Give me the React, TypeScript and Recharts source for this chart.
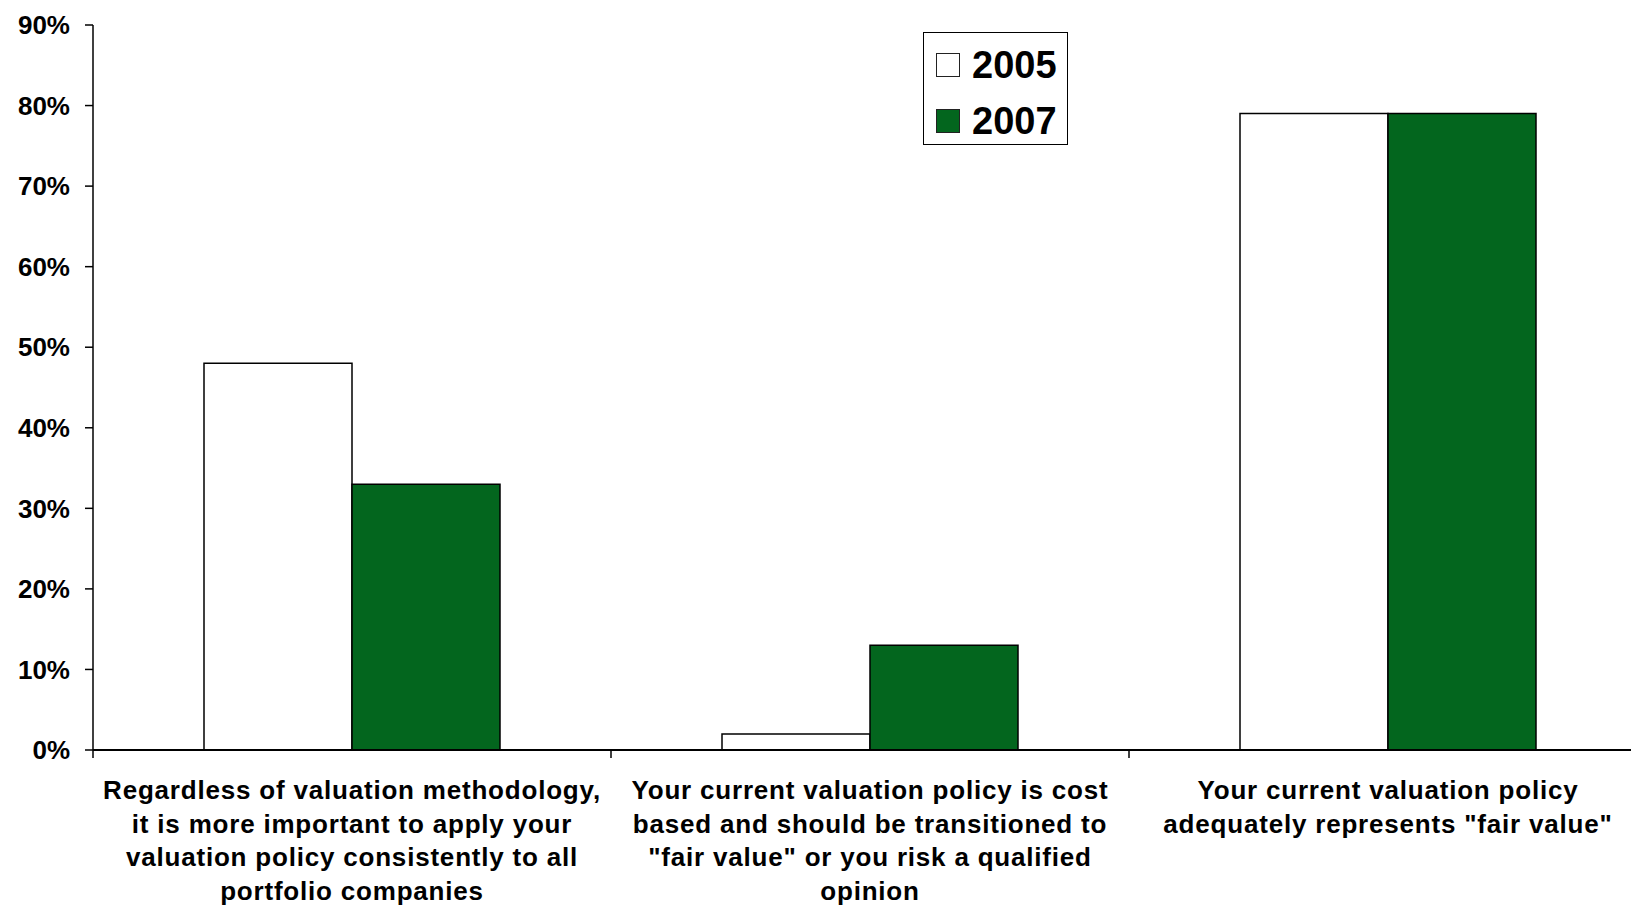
import React from "react";
import { BarChart, Bar, XAxis, YAxis, Legend } from "recharts";

const categories = [
  "Regardless of valuation methodology, it is more important to apply your valuation policy consistently to all portfolio companies",
  "Your current valuation policy is cost based and should be transitioned to \"fair value\" or you risk a qualified opinion",
  "Your current valuation policy adequately represents \"fair value\"",
];

// label lines as wrapped in the original
const categoryLines = [
  ["Regardless of valuation methodology,", "it is more important to apply your", "valuation policy consistently to all", "portfolio companies"],
  ["Your current valuation policy is cost", "based and should be transitioned to", "\"fair value\" or you risk a qualified", "opinion"],
  ["Your current valuation policy", "adequately represents \"fair value\""],
];

const values2005 = [48, 2, 79];
const values2007 = [33, 13, 79];
const yTicks = [0, 10, 20, 30, 40, 50, 60, 70, 80, 90];

const seriesNames = ["2005", "2007"];
const GREEN = "#03661e";
const FONT = "'Liberation Sans', Arial, Helvetica, sans-serif";

const CHART_W = 1647;
const CHART_H = 908;
const Y_W = 93;
const STEP = (CHART_W - Y_W) / categories.length;

const data = categories.map((name, i) => ({
  name,
  idx: i,
  y2005: values2005[i],
  y2007: values2007[i],
}));

function CategoryTick(props: any) {
  const { x, y, payload } = props;
  const lines = categoryLines[payload.index] ?? [String(payload.value)];
  const left = x - STEP / 2;
  return (
    <g>
      <line x1={left} y1={y} x2={left} y2={y + 8} stroke="#000" strokeWidth={1.5} />
      <text
        x={x}
        y={y + 49}
        textAnchor="middle"
        fill="#000"
        fontSize={26}
        fontWeight="bold"
        fontFamily={FONT}
        letterSpacing={0.8}
      >
        {lines.map((ln: string, i: number) => (
          <tspan key={i} x={x} dy={i === 0 ? 0 : 33.5}>
            {ln}
          </tspan>
        ))}
      </text>
    </g>
  );
}

function LegendBox() {
  const fills = ["#ffffff", GREEN];
  return (
    <div
      style={{
        width: 143,
        height: 111,
        border: "1.5px solid #000",
        background: "#fff",
        boxSizing: "content-box",
        fontFamily: FONT,
        position: "relative",
      }}
    >
      {seriesNames.map((s, i) => (
        <div
          key={s}
          style={{
            position: "absolute",
            left: 12,
            top: 8 + i * 56,
            height: 48,
            display: "flex",
            alignItems: "center",
          }}
        >
          <div
            style={{
              width: 22,
              height: 22,
              border: "1.5px solid #222",
              background: fills[i],
              marginRight: 12,
            }}
          />
          <span style={{ fontSize: 38, fontWeight: "bold", color: "#000", lineHeight: "48px" }}>{s}</span>
        </div>
      ))}
    </div>
  );
}

export default function App() {
  return (
    <div
      style={{
        position: "absolute",
        left: 0,
        top: 0,
        width: 1631,
        height: 908,
        overflow: "hidden",
        background: "#fff",
      }}
    >
      <BarChart
        width={CHART_W}
        height={CHART_H}
        data={data}
        margin={{ top: 25, right: 0, bottom: 0, left: 0 }}
        barSize={148}
        barGap={0}
      >
        <XAxis
          dataKey="name"
          height={CHART_H - 750}
          tick={<CategoryTick />}
          tickLine={false}
          tickSize={0}
          tickMargin={0}
          interval={0}
          axisLine={{ stroke: "#000", strokeWidth: 2 }}
        />
        <YAxis
          width={Y_W}
          domain={[0, 90]}
          ticks={yTicks}
          interval={0}
          tickFormatter={(v: number) => `${v}%`}
          tickSize={8}
          tickMargin={15}
          tickLine={{ stroke: "#000", strokeWidth: 1.5 }}
          axisLine={{ stroke: "#000", strokeWidth: 1.5 }}
          tick={{ fill: "#000", fontSize: 26, fontWeight: "bold", fontFamily: FONT }}
        />
        <Legend
          layout="horizontal"
          verticalAlign="middle"
          align="center"
          content={<LegendBox />}
          wrapperStyle={{ position: "absolute", left: 923, top: 32, width: "auto" }}
        />
        <Bar
          dataKey="y2005"
          name={seriesNames[0]}
          fill="#ffffff"
          stroke="#000"
          strokeWidth={1.5}
          isAnimationActive={false}
        />
        <Bar
          dataKey="y2007"
          name={seriesNames[1]}
          fill={GREEN}
          stroke="#000"
          strokeWidth={1.5}
          isAnimationActive={false}
        />
      </BarChart>
    </div>
  );
}
